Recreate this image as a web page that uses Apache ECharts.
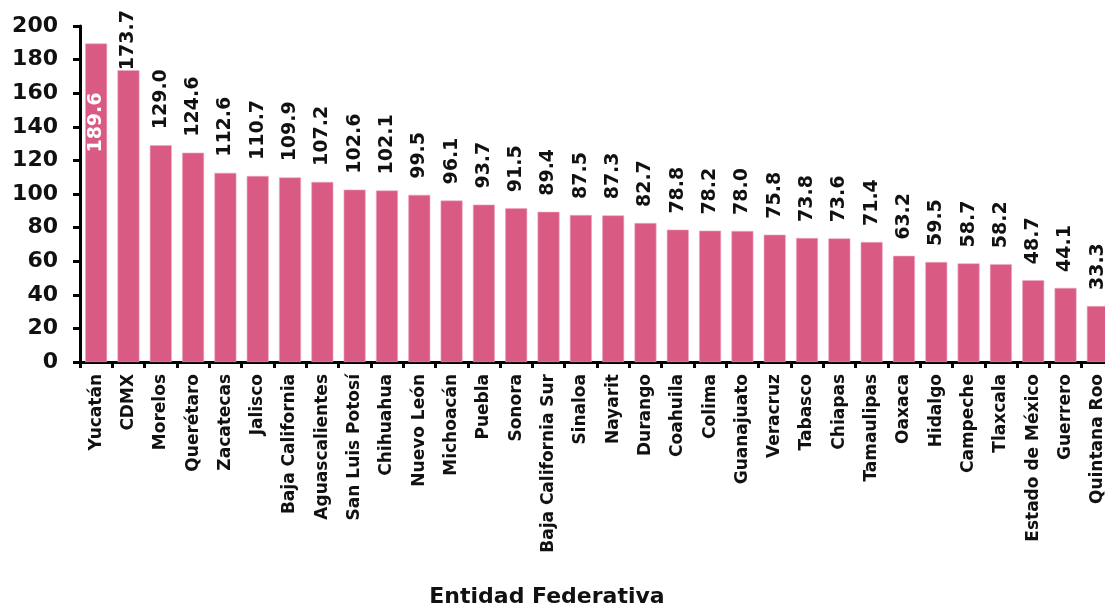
<!DOCTYPE html>
<html>
<head>
<meta charset="utf-8">
<script src="https://cdn.jsdelivr.net/npm/echarts@6/dist/echarts.min.js"></script>
<style>
html,body{margin:0;padding:0;background:#fff;}
#main{width:1105px;height:603px;}
</style>
</head>
<body>
<div id="main"></div>
<script>
var estados = ['Yucatán','CDMX','Morelos','Querétaro','Zacatecas','Jalisco','Baja California','Aguascalientes','San Luis Potosí','Chihuahua','Nuevo León','Michoacán','Puebla','Sonora','Baja California Sur','Sinaloa','Nayarit','Durango','Coahuila','Colima','Guanajuato','Veracruz','Tabasco','Chiapas','Tamaulipas','Oaxaca','Hidalgo','Campeche','Tlaxcala','Estado de México','Guerrero','Quintana Roo'];
var valores = [189.6,173.7,129.0,124.6,112.6,110.7,109.9,107.2,102.6,102.1,99.5,96.1,93.7,91.5,89.4,87.5,87.3,82.7,78.8,78.2,78.0,75.8,73.8,73.6,71.4,63.2,59.5,58.7,58.2,48.7,44.1,33.3];
var yTicks = [0,20,40,60,80,100,120,140,160,180,200];

var fuente = 'DejaVu Sans';
var chart = echarts.init(document.getElementById('main'));

// the first two labels do not fit above the plot, so they are moved
var datos = valores.map(function (v, i) {
    if (i === 0) {
        return {value: v, label: {position: 'insideTop', align: 'right', color: '#fff', distance: 49}};
    }
    if (i === 1) {
        return {value: v, label: {distance: 0}};
    }
    return v;
});

var option = {
    animation: false,
    grid: {left: 80, top: 26, bottom: 241, width: 1034, outerBoundsMode: 'none'},
    xAxis: {
        type: 'category',
        data: estados,
        name: 'Entidad Federativa',
        nameLocation: 'middle',
        nameGap: 224,
        nameTextStyle: {fontFamily: fuente, fontWeight: 'bold', fontSize: 22, color: '#111', padding: [0, 0, 0, -100]},
        axisLine: {lineStyle: {color: '#000', width: 3}},
        axisTick: {show: true, length: 6, lineStyle: {color: '#000', width: 3}},
        axisLabel: {rotate: 90, interval: 0, fontFamily: fuente, fontWeight: 'bold', fontSize: 17, color: '#111', margin: 12}
    },
    yAxis: {
        type: 'value',
        min: 0,
        max: 200,
        interval: 20,
        axisLine: {show: true, lineStyle: {color: '#000', width: 3}},
        axisTick: {show: true, length: 7, lineStyle: {color: '#000', width: 3}},
        splitLine: {show: false},
        axisLabel: {
            fontFamily: fuente, fontWeight: 'bold', fontSize: 22, color: '#111', margin: 22,
            formatter: function (v) { return yTicks.indexOf(v) >= 0 ? String(v) : ''; }
        }
    },
    series: [{
        type: 'bar',
        data: datos,
        barCategoryGap: '32%',
        itemStyle: {color: '#d95a82', borderColor: '#f0a9bf', borderWidth: 0.6},
        label: {
            show: true,
            position: 'top',
            rotate: 90,
            align: 'left',
            verticalAlign: 'middle',
            distance: 16,
            fontFamily: fuente,
            fontWeight: 'bold',
            fontSize: 19,
            color: '#111',
            formatter: function (p) { return p.value.toFixed(1); }
        }
    }]
};
chart.setOption(option);
</script>
</body>
</html>
